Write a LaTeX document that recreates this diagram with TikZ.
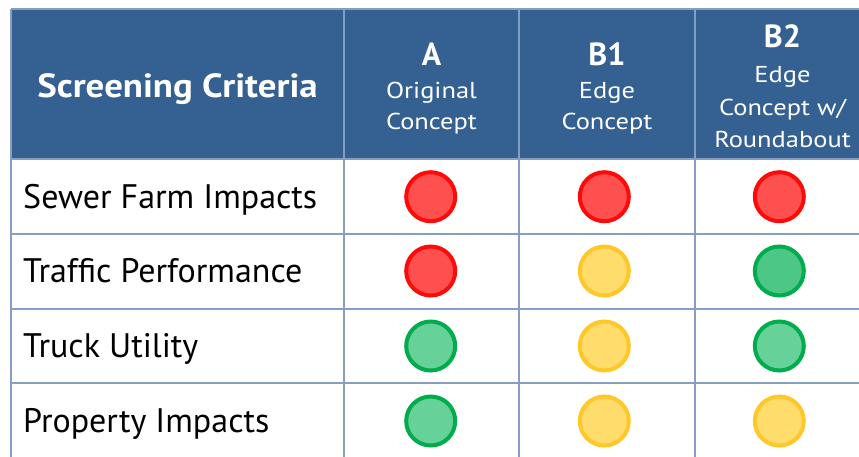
\documentclass[tikz,border=0pt]{standalone}
\usepackage{fontspec}
\setmainfont{PT Sans}
\definecolor{hdr}{RGB}{53,96,146}
\definecolor{gridc}{RGB}{135,158,195}
\definecolor{redS}{RGB}{255,10,10}
\definecolor{redF}{RGB}{255,80,80}
\definecolor{yelS}{RGB}{255,200,40}
\definecolor{yelF}{RGB}{255,220,108}
\definecolor{grnS}{RGB}{0,172,76}
\definecolor{grnF}{RGB}{102,209,152}
\definecolor{grnF2}{RGB}{76,199,133}
\tikzset{
  dot/.style={circle, draw, line width=4pt, minimum size=49pt, inner sep=0pt},
  redc/.style={dot, draw=redS, fill=redF},
  yelc/.style={dot, draw=yelS, fill=yelF},
  grnc/.style={dot, draw=grnS, fill=grnF},
  grnd/.style={dot, draw=grnS, fill=grnF2},
  gline/.style={draw=gridc, line width=1.5pt},
  hbig/.style={anchor=base, text=white, inner sep=0pt, font=\bfseries\fontsize{32}{32}\selectfont},
  hsub/.style={anchor=base, text=white, inner sep=0pt, font=\fontsize{23}{23}\selectfont\addfontfeature{FakeStretch=1.15}},
  rowlab/.style={anchor=base west, inner sep=0pt, text=black, font=\fontsize{34}{34}\selectfont},
}
\begin{document}
\begin{tikzpicture}[x=1pt,y=-1pt]
\useasboundingbox (0,0) rectangle (859,456);
\begin{scope}
\clip (0,0) rectangle (859,456);
\fill[white] (0,0) rectangle (859,456);
\fill[hdr] (11,9) rectangle (880,159);
% grid
\draw[gline] (11,9) -- (880,9);
\draw[gline] (11,159) -- (880,159);
\draw[gline] (11,234) -- (880,234);
\draw[gline] (11,309) -- (880,309);
\draw[gline] (11,383) -- (880,383);
\draw[gline] (11,9) -- (11,470);
\draw[gline] (344,9) -- (344,470);
\draw[gline] (519,9) -- (519,470);
\draw[gline] (695,9) -- (695,470);
\end{scope}
% header
\node[hbig, font=\bfseries\fontsize{33.5}{33.5}\selectfont\addfontfeature{FakeStretch=1.1}] (hsc) at (177.5,97) {Screening Criteria};
\node[hbig] (hA) at (431.5,65) {A};
\node[hsub] (hA1) at (431.5,98) {Original};
\node[hsub] (hA2) at (431.5,129) {Concept};
\node[hbig] (hB1) at (607,65) {B1};
\node[hsub] (hB11) at (607,98) {Edge};
\node[hsub] (hB12) at (607,129) {Concept};
\node[hbig] (hB2) at (782.5,47) {B2};
\node[hsub] (hB21) at (782.5,82) {Edge};
\node[hsub] (hB22) at (782.5,115) {Concept w/};
\node[hsub] (hB23) at (782.5,147) {Roundabout};
% row labels
\node[rowlab] (r1) at (23,208) {Sewer Farm Impacts};
\node[rowlab] (r2) at (23,282.5) {Traffic Performance};
\node[rowlab] (r3) at (23,357) {Truck Utility};
\node[rowlab] (r4) at (23,432) {Property Impacts};
% circles
\node[redc] (c11) at (430.7,196.7) {};
\node[redc] (c12) at (604.3,196.7) {};
\node[redc] (c13) at (779.3,196.7) {};
\node[redc] (c21) at (430.7,271) {};
\node[yelc] (c22) at (604.3,271) {};
\node[grnd] (c23) at (779.3,271) {};
\node[grnc] (c31) at (430.7,346) {};
\node[yelc] (c32) at (604.3,346) {};
\node[grnc] (c33) at (779.3,346) {};
\node[grnc] (c41) at (430.7,421) {};
\node[yelc] (c42) at (604.3,421) {};
\node[yelc] (c43) at (779.3,421) {};
\end{tikzpicture}
\end{document}
